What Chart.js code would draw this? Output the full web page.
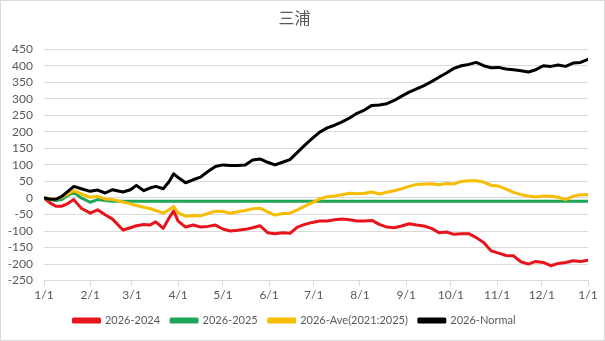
<!DOCTYPE html>
<html>
<head>
<meta charset="utf-8">
<script src="https://cdn.jsdelivr.net/npm/chart.js@4/dist/chart.umd.min.js"></script>
<style>
  html, body { margin: 0; padding: 0; background: #fff; }
  #wrap { width: 605px; height: 341px; box-sizing: border-box; border: 1px solid #d9d9d9; }
</style>
</head>
<body>
<div id="wrap"><canvas id="miuraChart" width="603" height="339"></canvas></div>
<script>
// day of year (0 = 1/1)
const days = [0,4,8,12,16,20,25,31,36,41,46,53,58,62,67,71,75,80,84,87,90,
  95,100,105,110,115,120,125,130,135,140,145,150,155,160,165,170,175,180,185,190,
  195,200,205,210,215,220,225,230,235,240,245,250,255,260,265,270,275,280,285,290,
  295,300,305,310,315,320,325,330,335,340,345,350,355,360,365];

const vs2024 = [0,-15,-25,-25,-17,-5,-31,-46,-36,-51,-64,-97,-90,-84,-80,-82,-72,-92,-60,-39,-70,
  -88,-82,-88,-86,-82,-94,-100,-98,-95,-90,-84,-105,-108,-105,-107,-88,-80,-74,-70,-70,
  -66,-64,-66,-70,-70,-68,-80,-88,-90,-85,-78,-82,-85,-92,-105,-103,-110,-108,-108,-120,
  -135,-160,-167,-174,-175,-193,-200,-192,-195,-205,-198,-195,-190,-192,-188];

const vs2025 = [0,-5,-8,-5,8,17,0,-13,-5,-8,-10,-10,-10,-10,-10,-10,-10,-10,-10,-10,-10,
  -10,-10,-10,-10,-10,-10,-10,-10,-10,-10,-10,-10,-10,-10,-10,-10,-10,-10,-10,-10,
  -10,-10,-10,-10,-10,-10,-10,-10,-10,-10,-10,-10,-10,-10,-10,-10,-10,-10,-10,-10,
  -10,-10,-10,-10,-10,-10,-10,-10,-10,-10,-10,-10,-10,-10,-10];

const vsAve = [0,-2,-3,2,12,22,12,2,5,-3,-5,-12,-18,-23,-28,-32,-38,-46,-35,-26,-45,
  -55,-53,-54,-47,-40,-41,-46,-42,-38,-33,-31,-42,-52,-47,-46,-36,-25,-14,-3,4,
  6,10,14,13,14,18,12,17,22,28,35,41,42,43,40,44,42,50,52,52,
  48,38,36,27,17,10,6,3,6,5,2,-5,5,10,10];

const vsNormal = [0,-3,-4,5,20,35,28,20,24,15,25,18,25,38,22,30,35,28,50,73,62,
  46,55,63,80,95,100,98,98,100,115,118,108,100,108,116,138,160,180,199,212,
  220,230,242,256,266,280,281,285,295,308,320,330,340,352,365,378,392,400,404,410,
  400,394,395,390,388,385,381,388,400,398,402,398,408,410,419];

const monthDays = [0,31,59,90,120,151,181,212,243,273,304,334,365];
const monthLabels = ['1/1','2/1','3/1','4/1','5/1','6/1','7/1','8/1','9/1','10/1','11/1','12/1','1/1'];

const toPoints = (vals) => vals.map((v, i) => ({ x: days[i], y: v }));

const txt = '#595959';
const grid = '#d9d9d9';
const font = 'Lato, "Noto Sans", sans-serif';

const ctx = document.getElementById('miuraChart').getContext('2d');

const miuraChart = new Chart(ctx, {
  type: 'line',
  data: {
    datasets: [
      { label: '2026-2024', data: toPoints(vs2024), borderColor: '#e8141c', backgroundColor: '#e8141c', order: 4 },
      { label: '2026-2025', data: toPoints(vs2025), borderColor: '#1ea656', backgroundColor: '#1ea656', order: 3 },
      { label: '2026-Ave(2021:2025)', data: toPoints(vsAve), borderColor: '#f7bd00', backgroundColor: '#f7bd00', order: 2 },
      { label: '2026-Normal', data: toPoints(vsNormal), borderColor: '#000000', backgroundColor: '#000000', order: 1 },
    ],
  },
  options: {
    responsive: false,
    animation: false,
    events: [],
    elements: {
      line: { borderWidth: 3, tension: 0, borderJoinStyle: 'round', borderCapStyle: 'round' },
      point: { radius: 0 },
    },
    layout: { padding: { left: 0, right: 16, top: 0, bottom: 4 } },
    plugins: {
      title: {
        display: true,
        text: '三浦',
        color: txt,
        font: { family: '"Noto Sans CJK JP", sans-serif', size: 16, weight: 'normal' },
        padding: { top: 7, bottom: 22 },
      },
      legend: {
        position: 'bottom',
        labels: {
          color: txt,
          font: { family: font, size: 11 },
          boxWidth: 26,
          boxHeight: 3,
          padding: 11,
          sort: (a, b) => a.datasetIndex - b.datasetIndex,
        },
      },
      tooltip: { enabled: false },
    },
    scales: {
      x: {
        type: 'linear',
        min: 0,
        max: 365,
        afterBuildTicks: (scale) => { scale.ticks = monthDays.map((v) => ({ value: v })); },
        ticks: {
          color: txt,
          font: { family: font, size: 12 },
          maxRotation: 0,
          autoSkip: false,
          padding: 2,
          callback: (value) => monthLabels[monthDays.indexOf(value)],
        },
        grid: { drawOnChartArea: false, drawTicks: true, tickLength: 5, color: grid },
        border: { display: true, color: grid },
      },
      y: {
        min: -250,
        max: 450,
        afterFit: (scale) => { scale.width = 43; },
        ticks: {
          stepSize: 50,
          autoSkip: false,
          color: txt,
          font: { family: font, size: 12 },
          padding: 11,
        },
        grid: { color: grid, drawTicks: false },
        border: { display: false },
      },
    },
  },
});
</script>
</body>
</html>
